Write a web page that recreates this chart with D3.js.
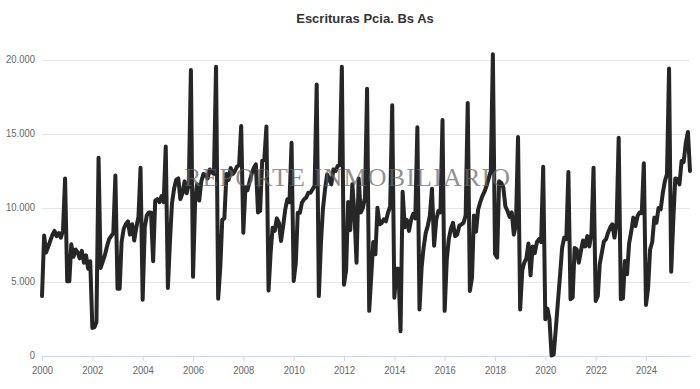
<!DOCTYPE html>
<html><head><meta charset="utf-8">
<script src="https://cdn.jsdelivr.net/npm/d3@7"></script>
<style>body{margin:0;background:#fff}svg{display:block}</style>
</head><body>
<svg id="chart" width="700" height="389"></svg>
<script>
const chartTitle = "Escrituras Pcia. Bs As";
const watermarkText = "REPORTE INMOBILIARIO";
const startYear = 2000;
// monthly values, Jan 2000 .. Oct 2025
const values = [
  4050, 8150, 7000, 7400, 7800, 8200, 8450, 8100, 8300, 8000, 8500, 12000,
  5050, 5050, 7550, 6700, 7200, 7000, 6600, 7100, 6300, 6800, 5900, 6400,
  1900, 1950, 2300, 13400, 5950, 6400, 6800, 7400, 7900, 8100, 8300, 12200,
  4550, 4550, 7700, 8600, 8900, 9100, 8200, 8900, 7800, 8700, 9400, 12720,
  3800, 8700, 9500, 9700, 9700, 6400, 10500, 10600, 10400, 10800, 10400, 14150,
  4600, 7800, 10300, 11300, 11900, 12000, 10600, 11000, 11800, 11000, 11600, 19330,
  5350, 10500, 11600, 10500, 11800, 12300, 12200, 12000, 12600, 12400, 12300, 19550,
  3870, 6000, 9200, 9300, 12300, 11900, 12700, 12300, 12500, 12800, 12900, 15540,
  8330, 11400, 11200, 11800, 12300, 12700, 12950, 9700, 9800, 13200, 13300, 15500,
  4420, 7000, 8670, 8450, 9300, 9000, 7770, 8780, 9910, 10590, 10400, 14410,
  5070, 6300, 9680, 9680, 10360, 10590, 10700, 11030, 11030, 11260, 11500, 18350,
  4050, 7660, 9910, 11260, 12270, 11930, 11600, 12610, 12500, 12840, 12900, 19550,
  4820, 5800, 10400, 8500, 11600, 9600, 6300, 12000, 9700, 10000, 10700, 18060,
  3050, 5500, 7700, 6870, 10020, 8900, 8990, 9240, 9100, 9680, 10100, 16950,
  3940, 5900, 5900, 1680, 11100, 8700, 9200, 8450, 9200, 9600, 9300, 15450,
  3150, 6000, 7300, 8300, 8800, 9500, 11300, 7450, 9200, 9800, 9700, 15950,
  3050, 6500, 7900, 8600, 9000, 8100, 8200, 8800, 8900, 9000, 9500, 17100,
  4400, 5300, 9500, 8400, 9900, 10400, 10800, 11100, 11500, 12000, 12500, 20390,
  6900, 6650, 11800, 11700, 11400, 10100, 9800, 9400, 9700, 8200, 8900, 14800,
  3150, 5800, 6300, 6600, 7600, 5450, 7400, 6950, 7700, 7900, 7700, 12780,
  2480, 3200, 2500, 30, 100, 1800, 3600, 5400, 7300, 8000, 7900, 12430,
  3830, 3950, 7300, 7200, 6300, 7100, 7800, 7400, 8100, 7400, 8300, 12720,
  3720, 4050, 6200, 7000, 7750, 7900, 8350, 8700, 8900, 8000, 9000, 14750,
  3830, 3900, 6420, 5520, 7600, 8400, 9350, 8780, 9460, 9700, 9650, 13020,
  3450, 4600, 7200, 7700, 9350, 9000, 10000, 9900, 11000, 11800, 12300, 19420,
  5700, 9200, 12000, 11950, 11600, 13180, 13100, 14400, 15140, 12500
];
const yTicks = [0, 5000, 10000, 15000, 20000];
const xTickYears = [2000, 2002, 2004, 2006, 2008, 2010, 2012, 2014, 2016, 2018, 2020, 2022, 2024];

const data = values.map((v, i) => ({ date: new Date(startYear, i, 1), value: v }));

const svg = d3.select("#chart");
const mLeft = 42, mRight = 690, mTop = 60, mBottom = 356;

const x = d3.scaleTime()
  .domain([data[0].date, data[data.length - 1].date])
  .range([mLeft, mRight]);
const y = d3.scaleLinear().domain([0, 20000]).range([mBottom, mTop]);

const locale = d3.formatLocale({ decimal: ",", thousands: ".", grouping: [3], currency: ["$", ""] });
const fmt = locale.format(",d");

const labelFont = "'Liberation Sans', Arial, sans-serif";
const squeeze = 0.86;

// title
svg.append("text")
  .attr("x", 365).attr("y", 23)
  .attr("text-anchor", "middle")
  .style("font-family", "'Liberation Sans', Arial, sans-serif")
  .style("font-weight", "bold")
  .style("font-size", "13px")
  .attr("fill", "#333")
  .text(chartTitle);

// gridlines + y labels
const yAxis = d3.axisLeft(y).tickValues(yTicks).tickSize(-(mRight - mLeft)).tickFormat(fmt).tickPadding(0);
const gy = svg.append("g").attr("transform", `translate(${mLeft},0)`).call(yAxis);
gy.select(".domain").remove();
gy.selectAll(".tick line").attr("stroke", "#e6e6e6");
gy.selectAll(".tick text")
  .attr("x", 0)
  .attr("transform", `translate(-7,0) scale(${squeeze},1)`)
  .attr("fill", "#666")
  .style("font-family", labelFont)
  .style("font-size", "11px")
  .attr("dy", "0.2em");

// x axis
const xAxis = d3.axisBottom(x)
  .tickValues(xTickYears.map(yr => new Date(yr, 0, 1)))
  .tickFormat(d3.timeFormat("%Y"))
  .tickSize(5).tickSizeOuter(0).tickPadding(5);
const gx = svg.append("g").attr("transform", `translate(0,${mBottom})`).call(xAxis);
gx.select(".domain").attr("stroke", "#ccd6eb");
gx.selectAll(".tick line").attr("stroke", "#ccd6eb");
gx.selectAll(".tick text")
  .attr("transform", `scale(${squeeze},1)`)
  .attr("fill", "#666")
  .style("font-family", labelFont)
  .style("font-size", "11px");

// line
const line = d3.line().x(d => x(d.date)).y(d => y(d.value));
svg.append("path")
  .datum(data)
  .attr("d", line)
  .attr("fill", "none")
  .attr("stroke", "#262626")
  .attr("stroke-width", 4)
  .attr("stroke-linejoin", "round")
  .attr("stroke-linecap", "round");

// watermark (semi-transparent, over the line)
svg.append("text")
  .attr("x", 184).attr("y", 186)
  .attr("textLength", 326).attr("lengthAdjust", "spacing")
  .style("font-family", "'Liberation Serif', 'Times New Roman', serif")
  .style("font-size", "26px")
  .attr("fill", "#666")
  .attr("fill-opacity", 0.72)
  .text(watermarkText);
</script>
</body></html>
